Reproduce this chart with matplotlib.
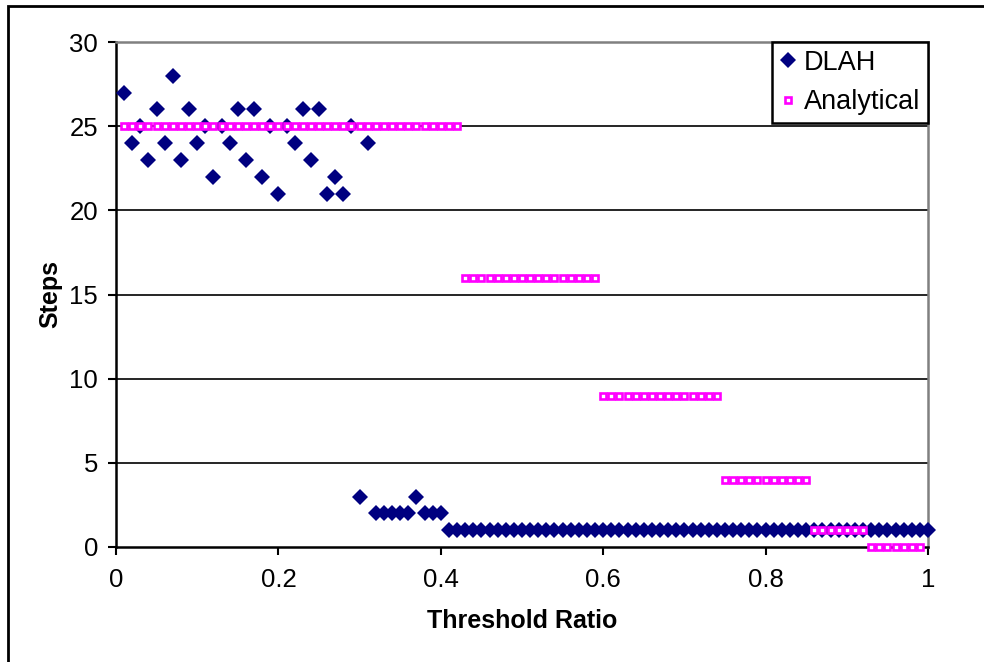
import matplotlib.pyplot as plt
from matplotlib.patches import Rectangle

# threshold ratio sample points
ratio = [0.01, 0.02, 0.03, 0.04, 0.05, 0.06, 0.07, 0.08, 0.09, 0.10,
         0.11, 0.12, 0.13, 0.14, 0.15, 0.16, 0.17, 0.18, 0.19, 0.20,
         0.21, 0.22, 0.23, 0.24, 0.25, 0.26, 0.27, 0.28, 0.29, 0.30,
         0.31, 0.32, 0.33, 0.34, 0.35, 0.36, 0.37, 0.38, 0.39, 0.40,
         0.41, 0.42, 0.43, 0.44, 0.45, 0.46, 0.47, 0.48, 0.49, 0.50,
         0.51, 0.52, 0.53, 0.54, 0.55, 0.56, 0.57, 0.58, 0.59, 0.60,
         0.61, 0.62, 0.63, 0.64, 0.65, 0.66, 0.67, 0.68, 0.69, 0.70,
         0.71, 0.72, 0.73, 0.74, 0.75, 0.76, 0.77, 0.78, 0.79, 0.80,
         0.81, 0.82, 0.83, 0.84, 0.85, 0.86, 0.87, 0.88, 0.89, 0.90,
         0.91, 0.92, 0.93, 0.94, 0.95, 0.96, 0.97, 0.98, 0.99, 1.00]

dlah = [27, 24, 25, 23, 26, 24, 28, 23, 26, 24,
        25, 22, 25, 24, 26, 23, 26, 22, 25, 21,
        25, 24, 26, 23, 26, 21, 22, 21, 25, 3,
        24, 2, 2, 2, 2, 2, 3, 2, 2, 2,
        1, 1, 1, 1, 1, 1, 1, 1, 1, 1,
        1, 1, 1, 1, 1, 1, 1, 1, 1, 1,
        1, 1, 1, 1, 1, 1, 1, 1, 1, 1,
        1, 1, 1, 1, 1, 1, 1, 1, 1, 1,
        1, 1, 1, 1, 1, 1, 1, 1, 1, 1,
        1, 1, 1, 1, 1, 1, 1, 1, 1, 1]

analytical = [25, 25, 25, 25, 25, 25, 25, 25, 25, 25,
              25, 25, 25, 25, 25, 25, 25, 25, 25, 25,
              25, 25, 25, 25, 25, 25, 25, 25, 25, 25,
              25, 25, 25, 25, 25, 25, 25, 25, 25, 25,
              25, 25, 16, 16, 16, 16, 16, 16, 16, 16,
              16, 16, 16, 16, 16, 16, 16, 16, 16, 9,
              9, 9, 9, 9, 9, 9, 9, 9, 9, 9,
              9, 9, 9, 9, 4, 4, 4, 4, 4, 4,
              4, 4, 4, 4, 4, 1, 1, 1, 1, 1,
              1, 1, 0, 0, 0, 0, 0, 0, 0]

x_ticks = [0, 0.2, 0.4, 0.6, 0.8, 1]
x_labels = ['0', '0.2', '0.4', '0.6', '0.8', '1']
y_ticks = [0, 5, 10, 15, 20, 25, 30]

plt.rcParams['font.family'] = ['Liberation Sans', 'DejaVu Sans']

fig = plt.figure(figsize=(9.84, 6.62), dpi=100)
ax = fig.add_axes([116 / 984, 1 - 547 / 662, 812 / 984, 505 / 662])

ax.set_xlim(0, 1)
ax.set_ylim(0, 30)

# horizontal gridlines
for yv in y_ticks[1:-1]:
    ax.axhline(yv, color='black', linewidth=1.2, zorder=1)

ax.plot(ratio, dlah, linestyle='none', marker='D', markersize=8,
        color='#000080', markeredgewidth=0, clip_on=False, zorder=3, label='DLAH')
ax.plot(ratio[:len(analytical)], analytical, linestyle='none', marker='s', markersize=5,
        markerfacecolor='white', markeredgecolor='#FF00FF', markeredgewidth=1.9,
        clip_on=False, zorder=4, label='Analytical')

ax.set_xticks(x_ticks)
ax.set_xticklabels(x_labels)
ax.set_yticks(y_ticks)
ax.tick_params(direction='out', length=6, width=1.5, labelsize=18.5, colors='black')
ax.tick_params(axis='x', pad=9)
ax.tick_params(axis='y', pad=7)

for side in ['left', 'bottom']:
    ax.spines[side].set_linewidth(1.8)
    ax.spines[side].set_color('black')
for side in ['top', 'right']:
    ax.spines[side].set_linewidth(1.8)
    ax.spines[side].set_color('#808080')

ax.set_xlabel('Threshold Ratio', fontsize=18, fontweight='bold', labelpad=12)
ax.set_ylabel('Steps', fontsize=18, fontweight='bold', labelpad=5)

leg = ax.legend(loc='upper right', bbox_to_anchor=(1.0, 1.0), borderaxespad=0,
                fancybox=False, framealpha=1, edgecolor='black', fontsize=19.5,
                handlelength=0.6, handletextpad=0.3, borderpad=0.28, labelspacing=0.5)
leg.get_frame().set_linewidth(1.8)
leg.set_zorder(5)

# outer chart border
fig.patches.append(Rectangle((8 / 984, -0.05), 1.2, 1 - 6 / 662 + 0.05,
                             transform=fig.transFigure, fill=False,
                             edgecolor='black', linewidth=2))

fig.savefig('out.png', dpi=100)
